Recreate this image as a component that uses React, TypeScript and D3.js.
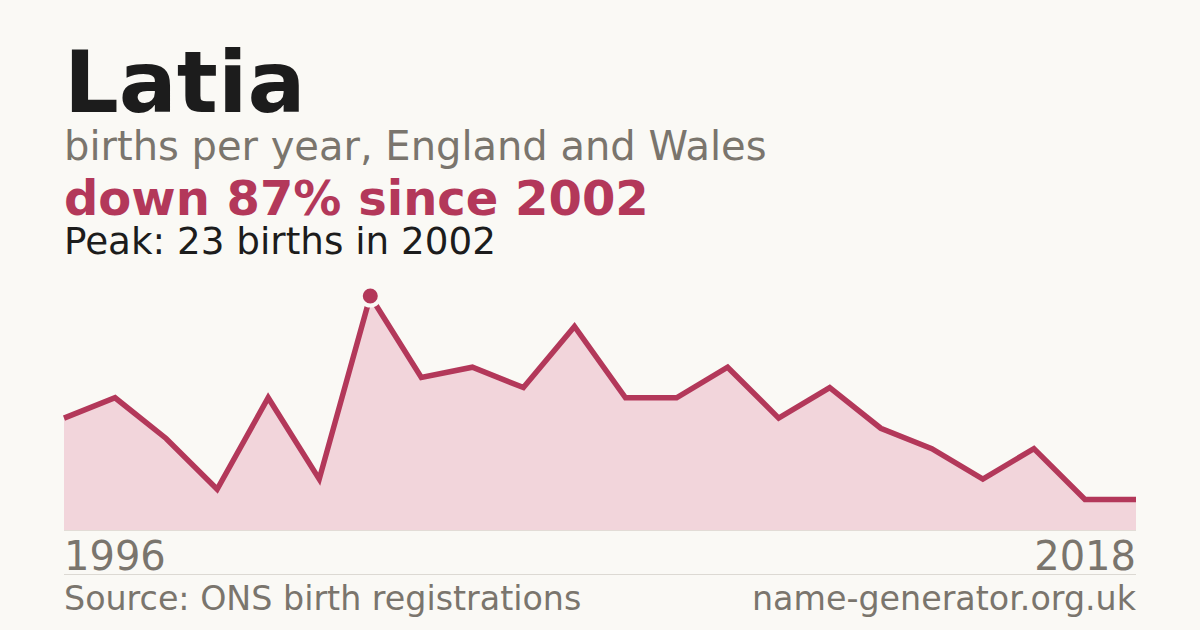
import * as d3 from "d3";

const W = 1200;
const H = 630;

// births per year, first point 1996
const births = [11, 13, 9, 4, 13, 5, 23, 15, 16, 14, 20, 13, 13, 16, 11, 14, 10, 8, 5, 8, 3, 3];
const tickLabels = ["1996", "2018"];
const peakIndex = 6;

const FONT = "'DejaVu Sans', sans-serif";
const RED = "#b3385a";
const GREY = "#7a756d";
const BG = "#faf9f5";

const App = () => {
  const x = d3.scaleLinear().domain([0, births.length - 1]).range([64, 1136]);
  const y = d3.scaleLinear().domain([0, 23]).range([530, 296]);

  const area = d3
    .area<number>()
    .x((_, i) => x(i))
    .y0(y(0))
    .y1((d) => y(d));
  const line = d3
    .line<number>()
    .x((_, i) => x(i))
    .y((d) => y(d));

  return (
    <svg
      width={W}
      height={H}
      viewBox={`0 0 ${W} ${H}`}
      style={{ position: "absolute", left: 0, top: 0, background: BG }}
      fontFamily={FONT}
    >
      <rect width={W} height={H} fill={BG} />
      <text x={64} y={112} fontSize={86} fontWeight="bold" fill="#1c1c1c">
        Latia
      </text>
      <text x={64} y={160} fontSize={40} fill={GREY}>
        births per year, England and Wales
      </text>
      <text x={64} y={215} fontSize={48} fontWeight="bold" fill={RED}>
        down 87% since 2002
      </text>
      <text x={64} y={254} fontSize={37.3} fill="#1c1c1c">
        Peak: 23 births in 2002
      </text>

      <path d={area(births) ?? ""} fill="#f2d5db" />
      <line x1={64} x2={1136} y1={530.5} y2={530.5} stroke="#e2dcd6" strokeWidth={1} />
      <path d={line(births) ?? ""} fill="none" stroke={RED} strokeWidth={5.5} strokeLinejoin="miter" />
      <circle cx={x(peakIndex)} cy={y(births[peakIndex])} r={9.5} fill={RED} stroke={BG} strokeWidth={4} />

      <text x={64} y={570} fontSize={40} fill={GREY}>
        {tickLabels[0]}
      </text>
      <text x={1136} y={570} fontSize={40} fill={GREY} textAnchor="end">
        {tickLabels[1]}
      </text>
      <line x1={64} x2={1136} y1={574.5} y2={574.5} stroke="#dcd9d3" strokeWidth={1} />
      <text x={64} y={610} fontSize={33.3} fill={GREY}>
        Source: ONS birth registrations
      </text>
      <text x={1136} y={610} fontSize={33.3} fill={GREY} textAnchor="end">
        name-generator.org.uk
      </text>
    </svg>
  );
};

export default App;
